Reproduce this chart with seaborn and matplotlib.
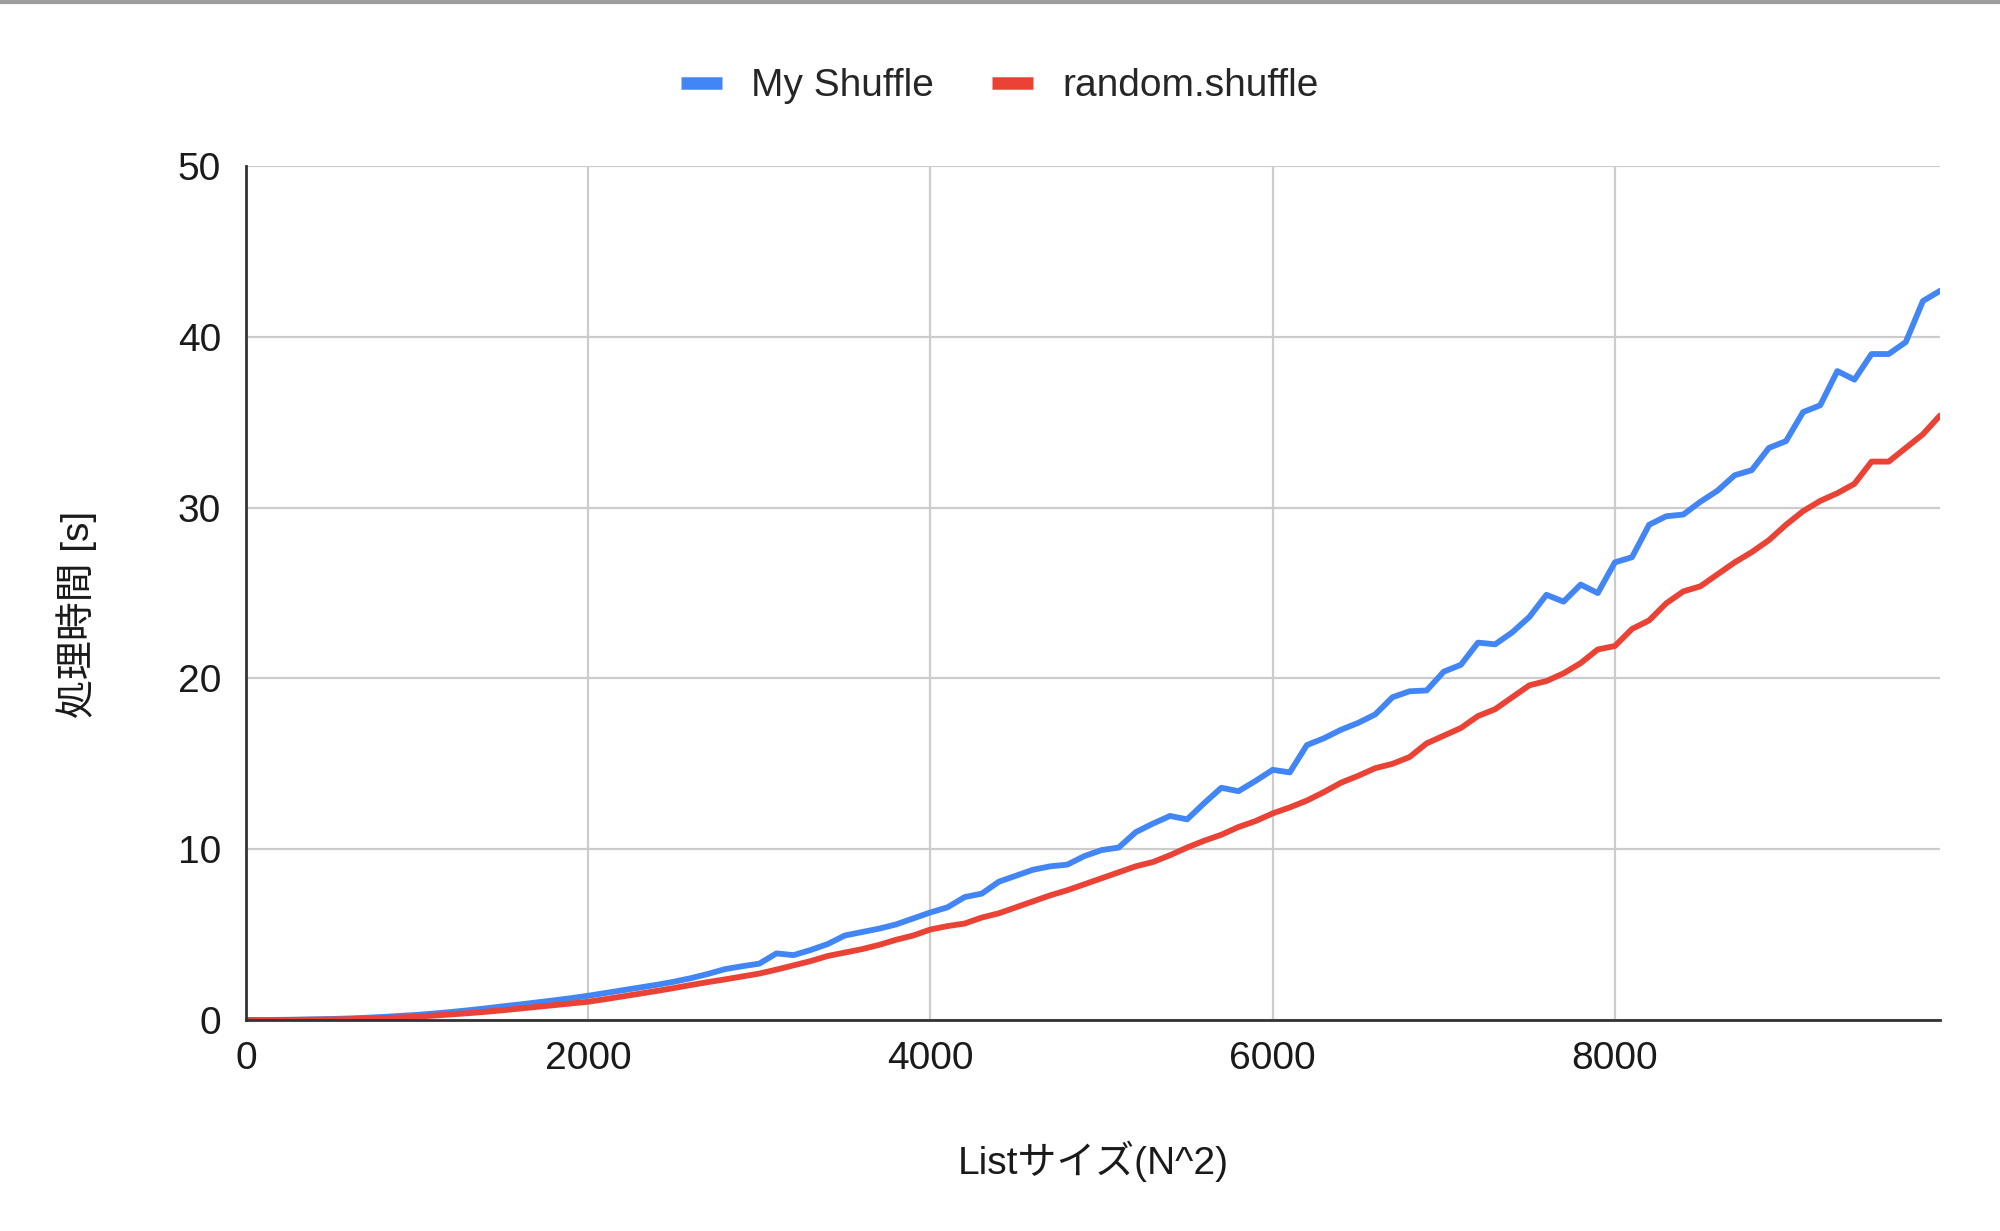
import numpy as np
import pandas as pd
import seaborn as sns
import matplotlib.pyplot as plt
from matplotlib.lines import Line2D

# list sizes (N^2), step 100
sizes = list(range(0, 10000, 100))

my_shuffle = [
    0.0, 0.0, 0.01, 0.02, 0.04, 0.06, 0.09, 0.13, 0.18, 0.24,
    0.3, 0.38, 0.47, 0.57, 0.68, 0.8, 0.91, 1.03, 1.15, 1.28,
    1.42, 1.58, 1.74, 1.9, 2.06, 2.24, 2.45, 2.7, 2.98, 3.15,
    3.3, 3.9, 3.8, 4.1, 4.45, 4.95, 5.15, 5.35, 5.6, 5.95,
    6.3, 6.6, 7.2, 7.4, 8.1, 8.45, 8.8, 9.0, 9.1, 9.6,
    9.95, 10.1, 11.0, 11.5, 11.95, 11.75, 12.7, 13.6, 13.4, 14.0,
    14.65, 14.5, 16.1, 16.5, 17.0, 17.4, 17.9, 18.9, 19.25, 19.3,
    20.4, 20.8, 22.1, 22.0, 22.7, 23.6, 24.9, 24.5, 25.5, 25.0,
    26.8, 27.1, 29.0, 29.5, 29.6, 30.35, 31.0, 31.9, 32.2, 33.5,
    33.9, 35.6, 36.0, 38.0, 37.5, 39.0, 39.0, 39.7, 42.1, 42.7,
]

random_shuffle = [
    0.0, 0.0, 0.0, 0.01, 0.02, 0.03, 0.05, 0.08, 0.11, 0.15,
    0.2, 0.26, 0.33, 0.4, 0.48, 0.57, 0.67, 0.77, 0.87, 0.97,
    1.07, 1.22, 1.38, 1.54, 1.7, 1.87, 2.05, 2.22, 2.38, 2.55,
    2.72, 2.95, 3.2, 3.45, 3.75, 3.95, 4.15, 4.4, 4.7, 4.95,
    5.3, 5.5, 5.65, 6.0, 6.25, 6.6, 6.95, 7.3, 7.6, 7.95,
    8.3, 8.65, 9.0, 9.25, 9.65, 10.1, 10.5, 10.85, 11.3, 11.65,
    12.1, 12.45, 12.85, 13.35, 13.9, 14.3, 14.75, 15.0, 15.4, 16.2,
    16.65, 17.1, 17.8, 18.2, 18.9, 19.6, 19.85, 20.3, 20.9, 21.7,
    21.9, 22.9, 23.4, 24.4, 25.1, 25.4, 26.1, 26.8, 27.4, 28.1,
    29.0, 29.8, 30.4, 30.85, 31.4, 32.7, 32.7, 33.5, 34.3, 35.4,
]

series_names = ['My Shuffle', 'random.shuffle']
colors = ['#4285F4', '#EA4335']
x_ticks = [0, 2000, 4000, 6000, 8000]
y_ticks = [0, 10, 20, 30, 40, 50]

df = pd.DataFrame({
    'size': sizes * 2,
    'time': my_shuffle + random_shuffle,
    'series': [series_names[0]] * len(sizes) + [series_names[1]] * len(sizes),
})

sns.set_theme(style='whitegrid')
plt.rcParams['font.family'] = ['Liberation Sans', 'Noto Sans CJK JP', 'DejaVu Sans']

fig, ax = plt.subplots(figsize=(20, 12.31), dpi=100)
fig.subplots_adjust(left=0.123, right=0.970, top=0.865, bottom=0.1714)

sns.lineplot(data=df, x='size', y='time', hue='series', palette=colors,
             linewidth=4.2, legend=False, ax=ax)
for line in ax.lines:
    line.set_solid_joinstyle('round')
    line.set_solid_capstyle('round')

ax.set_xlim(0, 9900)
ax.set_ylim(0, 50)
ax.set_xticks(x_ticks)
ax.set_yticks(y_ticks)
ax.tick_params(axis='both', labelsize=28, colors='#1a1a1a', length=0)
ax.tick_params(axis='y', pad=18)
ax.tick_params(axis='x', pad=15)
ax.grid(True, color='#cccccc', linewidth=1.6)

for side in ['top', 'right']:
    ax.spines[side].set_visible(False)
for side in ['left', 'bottom']:
    ax.spines[side].set_color('#333333')
    ax.spines[side].set_linewidth(2)

ax.set_xlabel('Listサイズ(N^2)', fontsize=28, color='#1a1a1a')
ax.set_ylabel('処理時間 [s]', fontsize=28, color='#1a1a1a')
ax.xaxis.label.set_va('center')
ax.yaxis.label.set_va('center')
ax.xaxis.set_label_coords(0.5, -0.165)
ax.yaxis.set_label_coords(-0.0998, 0.475)

handles = [Line2D([0], [0], color=c, linewidth=9, solid_capstyle='butt') for c in colors]
fig.legend(handles, series_names, loc='center', bbox_to_anchor=(0.5, 0.930),
           ncol=2, frameon=False, fontsize=28, handlelength=1.05,
           handletextpad=0.75, columnspacing=1.5)

fig.add_artist(Line2D([0, 1], [0.9985, 0.9985], transform=fig.transFigure,
                      color='#9e9e9e', linewidth=3))

plt.savefig('out.png', dpi=100, facecolor='white')
